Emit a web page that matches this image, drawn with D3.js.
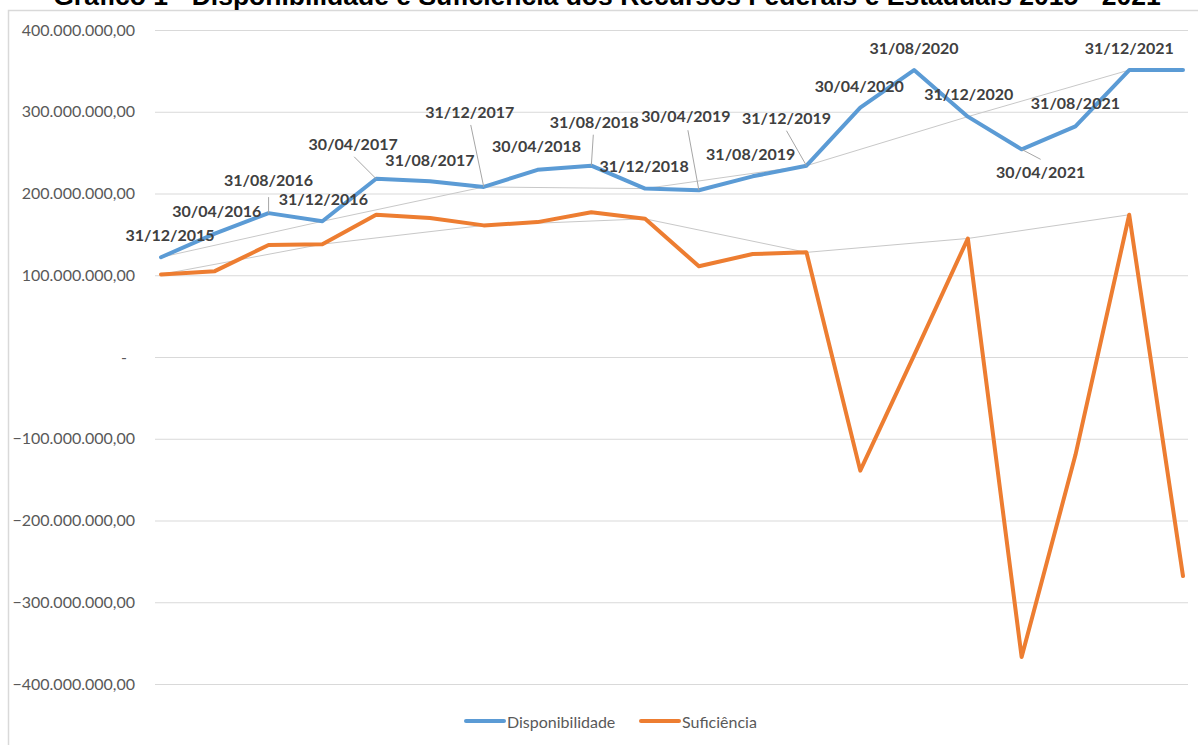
<!DOCTYPE html>
<html lang="pt-BR">
<head>
<meta charset="utf-8">
<title>Gráfico 1</title>
<style>
  body { margin: 0; background: #fff; }
  svg { display: block; }
  .tick text { font-family: Lato, "Open Sans", sans-serif; font-size: 16px; fill: #595959; }
  .lbl { font-family: Lato, "Open Sans", sans-serif; font-size: 16px; font-weight: bold; fill: #404040; }
</style>
<script src="https://d3js.org/d3.v7.min.js"></script>
</head>
<body>
<svg id="chart" width="1198" height="745"></svg>
<script>
// dados
var datas = ["31/12/2015","30/04/2016","31/08/2016","31/12/2016","30/04/2017","31/08/2017","31/12/2017",
             "30/04/2018","31/08/2018","31/12/2018","30/04/2019","31/08/2019","31/12/2019","30/04/2020",
             "31/08/2020","31/12/2020","30/04/2021","31/08/2021","31/12/2021","31/12/2021 "];

var disponibilidade = [122000000, 151000000, 176000000, 166000000, 218000000, 215000000, 208000000,
                       229000000, 234000000, 206000000, 204000000, 221000000, 234000000, 305000000,
                       351000000, 294000000, 254000000, 282000000, 351000000, 351000000];

var suficiencia = [101000000, 105000000, 137000000, 138000000, 174000000, 170000000, 161000000,
                   165000000, 177000000, 169000000, 111000000, 126000000, 128000000, -139000000,
                   2000000, 145000000, -367000000, -120000000, 174000000, -268000000];

var yTicks = [-400000000,-300000000,-200000000,-100000000,0,100000000,200000000,300000000,400000000];

var titulo = "Gráfico 1 - Disponibilidade e Suficiência dos Recursos Federais e Estaduais 2015 - 2021";

// posição dos rótulos (dx, dy) relativa ao ponto, e início da linha de chamada
var labelPos = [[9,-23],[2,-23],[0,-34],[1,-23],[-23,-35],[0,-22],[-14,-75],[-1,-24],[3,-44],[-1,-23],
                [-13,-75],[-2,-23],[-20,-48],[-1,-22],[0,-23],[1,-23],[19,22],[0,-24],[0,-23],null];
var leaders = {2:[0,-16], 4:[-22,-22], 6:[-13,-62], 8:[2,-31], 10:[-11,-60], 12:[-20,-35], 16:[19,10]};

var svg = d3.select("#chart");

var br = d3.formatLocale({decimal: ",", thousands: ".", grouping: [3], currency: ["R$", ""]});
var fmt = br.format(",.2f");

var x = d3.scalePoint().domain(datas).range([161, 1183]);
var y = d3.scaleLinear().domain([-400000000, 400000000]).range([684, 30]);

// borda da área do gráfico
svg.append("rect").attr("x", 8.5).attr("y", 10.5).attr("width", 1200).attr("height", 760)
  .attr("fill", "none").attr("stroke", "#d9d9d9").attr("stroke-width", 1.5);

// título (cortado no topo, como no original)
svg.append("text").attr("x", 607).attr("y", 5)
  .attr("text-anchor", "middle")
  .style("font-family", "'Liberation Sans', Arial, sans-serif")
  .style("font-weight", "bold").style("font-size", "26.5px").style("fill", "#000")
  .text(titulo);

// eixo y + grade
var yAxis = svg.append("g").attr("transform", "translate(155,0)")
  .call(d3.axisLeft(y).tickValues(yTicks).tickSize(-1033).tickPadding(20)
        .tickFormat(function(d){ return d === 0 ? "-" : fmt(d); }));
yAxis.select(".domain").remove();
yAxis.selectAll(".tick line").attr("stroke", "#d9d9d9").attr("stroke-width", 1);
yAxis.selectAll(".tick text").filter(function(d){ return d === 0; }).attr("dx", -8);

// linhas finas ligando os pontos de 31/12
var anuais = d3.range(datas.length).filter(function(i){ return datas[i].trim().indexOf("31/12") === 0 && i < 19; });
var lineIdx = function(vals){
  return d3.line().x(function(i){ return x(datas[i]); }).y(function(i){ return y(vals[i]); });
};
[disponibilidade, suficiencia].forEach(function(vals){
  svg.append("path").attr("d", lineIdx(vals)(anuais))
    .attr("fill", "none").attr("stroke", "#c8c8c8").attr("stroke-width", 1);
});

// séries
var series = [
  {name: "Disponibilidade", vals: disponibilidade, color: "#5b9bd5"},
  {name: "Suficiência", vals: suficiencia, color: "#ed7d31"}
];
series.forEach(function(s){
  svg.append("path")
    .attr("d", d3.line().x(function(d, i){ return x(datas[i]); }).y(function(d){ return y(d); })(s.vals))
    .attr("fill", "none").attr("stroke", s.color).attr("stroke-width", 4)
    .attr("stroke-linejoin", "round").attr("stroke-linecap", "round");
});

// linhas de chamada e rótulos de dados
Object.keys(leaders).forEach(function(k){
  var i = +k, px = x(datas[i]), py = y(disponibilidade[i]);
  svg.append("line").attr("x1", px + leaders[k][0]).attr("y1", py + leaders[k][1])
    .attr("x2", px).attr("y2", py).attr("stroke", "#a6a6a6").attr("stroke-width", 1);
});
datas.forEach(function(d, i){
  if (!labelPos[i]) return;
  svg.append("text").attr("class", "lbl")
    .attr("x", x(d) + labelPos[i][0]).attr("y", y(disponibilidade[i]) + labelPos[i][1])
    .attr("text-anchor", "middle").attr("dominant-baseline", "central")
    .text(d.trim());
});

// legenda
var leg = svg.append("g").attr("transform", "translate(0,721)");
var legX = [466, 641];
series.forEach(function(s, i){
  leg.append("line").attr("x1", legX[i]).attr("x2", legX[i] + 38).attr("y1", 0).attr("y2", 0)
    .attr("stroke", s.color).attr("stroke-width", 4).attr("stroke-linecap", "round");
  leg.append("text").attr("x", legX[i] + 41).attr("y", 0).attr("dominant-baseline", "central")
    .style("font-family", "Lato, 'Open Sans', sans-serif").style("font-size", "16px").style("fill", "#595959")
    .text(s.name);
});
</script>
</body>
</html>
